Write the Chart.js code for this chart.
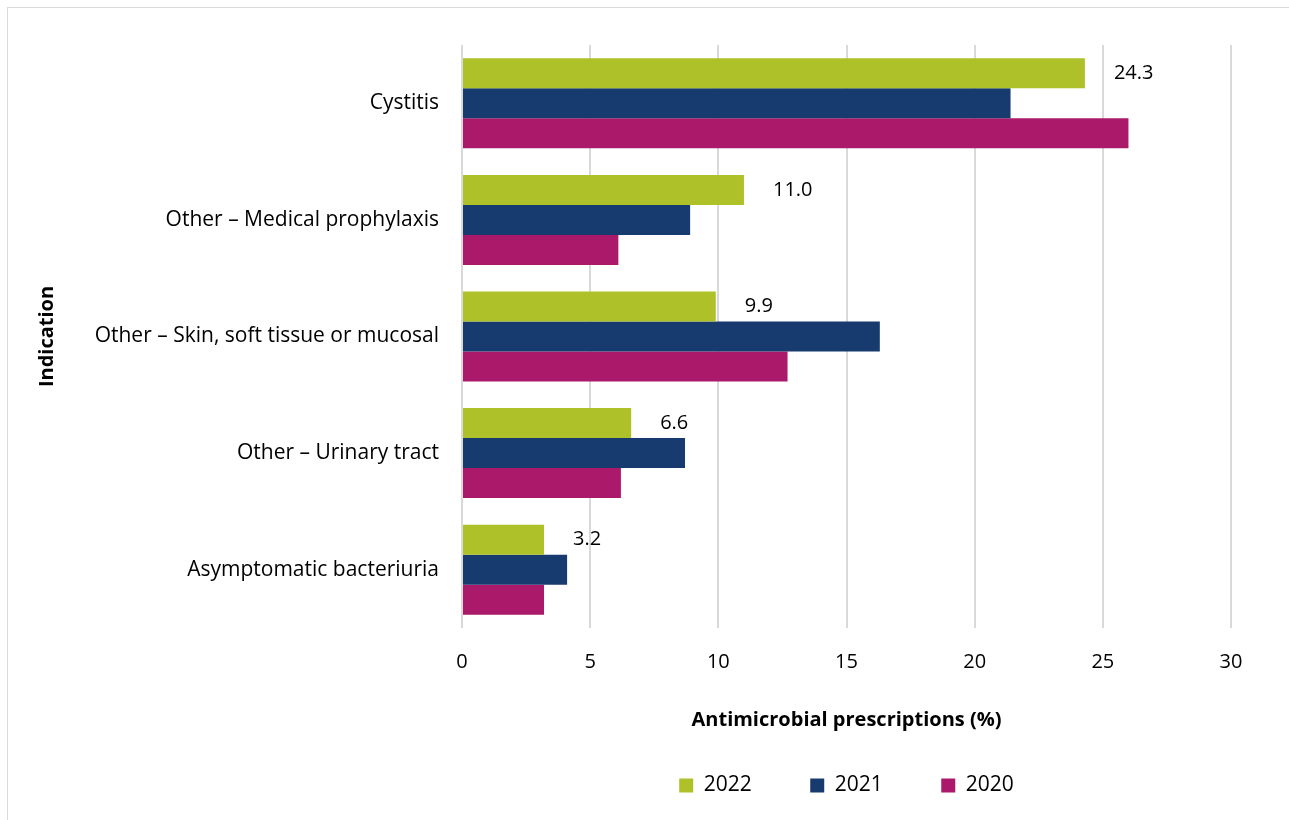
<!DOCTYPE html>
<html>
<head>
<meta charset="utf-8">
<script src="https://cdn.jsdelivr.net/npm/chart.js@4"></script>
<style>
  html, body { margin: 0; padding: 0; background: #fff; }
  #wrap { position: relative; width: 1289px; height: 820px; overflow: hidden; }
  #frame { position: absolute; left: 7px; top: 7px; width: 1300px; height: 830px; border: 1px solid #d9d9d9; box-sizing: border-box; }
  #chart { position: absolute; left: 0; top: 0; }
</style>
</head>
<body>
<div id="wrap">
  <div id="frame"></div>
  <canvas id="chart" width="1289" height="820"></canvas>
</div>
<script>
var indications = ["Cystitis", "Other \u2013 Medical prophylaxis", "Other \u2013 Skin, soft tissue or mucosal", "Other \u2013 Urinary tract", "Asymptomatic bacteriuria"];
var values2022 = [24.3, 11.0, 9.9, 6.6, 3.2];
var values2021 = [21.4, 8.9, 16.3, 8.7, 4.1];
var values2020 = [26.0, 6.1, 12.7, 6.2, 3.2];
var xTicks = [0, 5, 10, 15, 20, 25, 30];

var fontName = "'Open Sans', sans-serif";

// values written to the right of the 2022 bars
var valueLabels = {
    id: "valueLabels",
    afterDatasetsDraw: function (chart) {
        var ctx = chart.ctx;
        var meta = chart.getDatasetMeta(0);
        ctx.save();
        ctx.font = "20px " + fontName;
        ctx.fillStyle = "#000";
        ctx.textAlign = "left";
        ctx.textBaseline = "middle";
        for (var i = 0; i < meta.data.length; i++) {
            var bar = meta.data[i];
            ctx.fillText(values2022[i].toFixed(1), bar.x + 29, bar.y);
        }
        ctx.restore();
    }
};

var ctx = document.getElementById("chart");
var chart = new Chart(ctx, {
    type: "bar",
    data: {
        labels: indications,
        datasets: [
            { label: "2022", data: values2022, backgroundColor: "#aec129" },
            { label: "2021", data: values2021, backgroundColor: "#173b6e" },
            { label: "2020", data: values2020, backgroundColor: "#aa196a" }
        ]
    },
    options: {
        indexAxis: "y",
        responsive: false,
        animation: false,
        categoryPercentage: 0.772,
        barPercentage: 1,
        layout: { padding: { left: 0, top: 45, right: 58, bottom: 14 } },
        scales: {
            x: {
                min: 0,
                max: 30,
                afterBuildTicks: function (scale) {
                    scale.ticks = xTicks.map(function (v) { return { value: v }; });
                },
                afterFit: function (scale) { scale.height = 88.5; },
                grid: { color: "#d9d9d9", lineWidth: 2, drawTicks: false },
                border: { display: false },
                ticks: { color: "#000", padding: 22, font: { family: fontName, size: 20 } },
                title: {
                    display: true,
                    text: "Antimicrobial prescriptions (%)",
                    color: "#000",
                    padding: { top: 0, bottom: -15.5 },
                    font: { family: fontName, size: 20, weight: "bold" }
                }
            },
            y: {
                afterFit: function (scale) { scale.width = 462; },
                grid: { display: false, drawTicks: false },
                border: { display: false },
                ticks: { color: "#000", padding: 23, font: { family: fontName, size: 21 } },
                title: {
                    display: true,
                    text: "Indication",
                    color: "#000",
                    padding: { top: 35, bottom: 0 },
                    font: { family: fontName, size: 20, weight: "bold" }
                }
            }
        },
        plugins: {
            legend: {
                position: "bottom",
                fullSize: false,
                labels: {
                    color: "#000",
                    boxWidth: 14,
                    boxHeight: 14,
                    padding: 58.5,
                    font: { family: fontName, size: 21 }
                }
            },
            tooltip: { enabled: false }
        }
    },
    plugins: [valueLabels]
});
</script>
</body>
</html>
